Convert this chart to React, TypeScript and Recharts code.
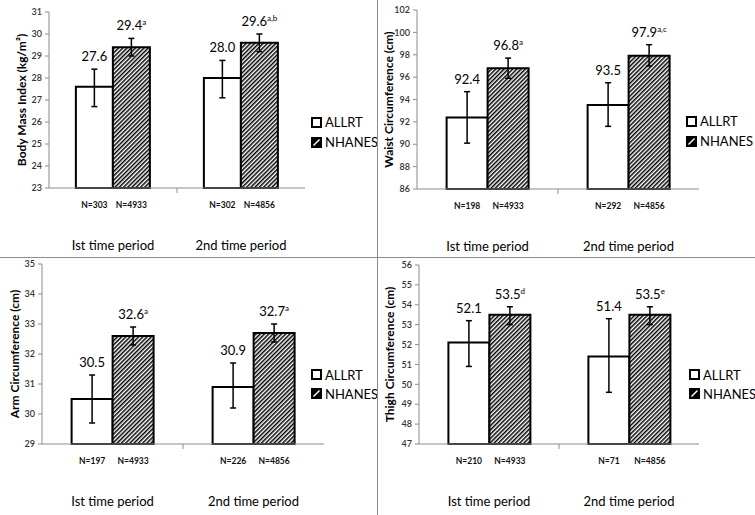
import React from 'react';
import { BarChart, Bar, XAxis, YAxis, ErrorBar, LabelList, Legend, Label } from 'recharts';

const periods = ['Ist time period', '2nd time period'];

// Body mass index
const bmiAllrt = [27.6, 28.0];
const bmiAllrtCi = [[26.7, 28.4], [27.1, 28.8]];
const bmiAllrtN = [303, 302];
const bmiNhanes = [29.4, 29.6];
const bmiNhanesCi = [[29.0, 29.8], [29.2, 30.0]];
const bmiNhanesN = [4933, 4856];
const bmiNhanesSup = ['a', 'a,b'];
const bmiTicks = [23, 24, 25, 26, 27, 28, 29, 30, 31];

// Waist circumference
const waistAllrt = [92.4, 93.5];
const waistAllrtCi = [[90.1, 94.7], [91.6, 95.5]];
const waistAllrtN = [198, 292];
const waistNhanes = [96.8, 97.9];
const waistNhanesCi = [[95.9, 97.7], [97.0, 98.9]];
const waistNhanesN = [4933, 4856];
const waistNhanesSup = ['a', 'a,c'];
const waistTicks = [86, 88, 90, 92, 94, 96, 98, 100, 102];

// Arm circumference
const armAllrt = [30.5, 30.9];
const armAllrtCi = [[29.7, 31.3], [30.2, 31.7]];
const armAllrtN = [197, 226];
const armNhanes = [32.6, 32.7];
const armNhanesCi = [[32.3, 32.9], [32.4, 33.0]];
const armNhanesN = [4933, 4856];
const armNhanesSup = ['a', 'a'];
const armTicks = [29, 30, 31, 32, 33, 34, 35];

// Thigh circumference
const thighAllrt = [52.1, 51.4];
const thighAllrtCi = [[50.9, 53.2], [49.6, 53.3]];
const thighAllrtN = [210, 71];
const thighNhanes = [53.5, 53.5];
const thighNhanesCi = [[53.0, 53.9], [53.0, 53.9]];
const thighNhanesN = [4933, 4856];
const thighNhanesSup = ['d', 'e'];
const thighTicks = [47, 48, 49, 50, 51, 52, 53, 54, 55, 56];

const AXIS = '#8c8c8c';

type PanelProps = {
  id: string;
  left: number; top: number; width: number; height: number;
  marginTop: number; marginRight: number;
  yWidth: number; xHeight: number; labelX: number;
  yLabel: string; ticks: number[];
  allrt: number[]; allrtCi: number[][]; allrtN: number[];
  nhanes: number[]; nhanesCi: number[][]; nhanesN: number[]; nhanesSup: string[];
  legendLeft: number; legendTop: number; legendRow: number;
};

const valueLabel = (ci: number[][], sup: string[] | null, min: number) => (p: any) => {
  const { x, y, width, height, value, index } = p;
  const ppu = height / (value - min);
  const top = y - (ci[index][1] - value) * ppu;
  return (
    <text x={x + width / 2} y={top - 8} textAnchor="middle" fontSize={13} fill="#000">
      {Number(value).toFixed(1)}
      {sup && <tspan dy={-5} fontSize={8}>{sup[index]}</tspan>}
    </text>
  );
};

const nLabel = (ns: number[]) => (p: any) => {
  const { x, y, width, height, index } = p;
  return (
    <text x={x + width / 2} y={y + height + 20} textAnchor="middle" fontSize={8.5} fontWeight={700} fill="#111">
      N={ns[index]}
    </text>
  );
};

const periodTick = (bandW: number) => (p: any) => {
  const { x, y, payload } = p;
  const idx = p.index ?? payload.index;
  return (
    <g>
      {idx === 0 && <line x1={x + bandW / 2} x2={x + bandW / 2} y1={y} y2={y + 5} stroke={AXIS} />}
      <text x={x} y={y + 62} textAnchor="middle" fontSize={13} fill="#000">{payload.value}</text>
    </g>
  );
};

function Panel(props: PanelProps) {
  const { id, ticks } = props;
  const min = ticks[0];
  const max = ticks[ticks.length - 1];
  const data = periods.map((period, i) => ({
    period,
    allrt: props.allrt[i],
    nhanes: props.nhanes[i],
    allrtErr: [props.allrt[i] - props.allrtCi[i][0], props.allrtCi[i][1] - props.allrt[i]],
    nhanesErr: [props.nhanes[i] - props.nhanesCi[i][0], props.nhanesCi[i][1] - props.nhanes[i]],
  }));
  const plotW = props.width - props.yWidth - props.marginRight;
  const bandW = plotW / periods.length;

  const renderLegend = (lp: any) => (
    <div style={{ fontSize: 13, color: '#000' }}>
      {(lp.payload || []).map((entry: any, i: number) => (
        <div key={i} style={{ display: 'flex', alignItems: 'center', height: props.legendRow }}>
          <svg width={11} height={11} style={{ marginRight: 3 }}>
            {i === 0 ? (
              <rect x={1} y={1} width={9} height={9} fill="#fff" stroke="#000" strokeWidth={2} />
            ) : (
              <g>
                <rect x={1} y={1} width={9} height={9} fill="#000" stroke="#000" strokeWidth={2} />
                <line x1={2.5} y1={8.5} x2={8.5} y2={2.5} stroke="#fff" strokeWidth={1.5} />
              </g>
            )}
          </svg>
          <span>{entry.value}</span>
        </div>
      ))}
    </div>
  );

  return (
    <div style={{ position: 'absolute', left: props.left, top: props.top }}>
      <BarChart
        width={props.width}
        height={props.height}
        data={data}
        margin={{ top: props.marginTop, right: props.marginRight, left: 0, bottom: 0 }}
        barGap={0}
        barCategoryGap="21%"
      >
        <defs>
          <pattern id={`hatch-${id}`} width={3} height={3} patternUnits="userSpaceOnUse" patternTransform="rotate(45)">
            <rect width={3} height={3} fill="#fff" />
            <line x1={0.75} y1={0} x2={0.75} y2={3} stroke="#000" strokeWidth={1.5} />
          </pattern>
        </defs>
        <XAxis
          dataKey="period"
          height={props.xHeight}
          axisLine={{ stroke: AXIS }}
          tickLine={false}
          tickSize={0}
          tickMargin={0}
          interval={0}
          tick={periodTick(bandW)}
        />
        <YAxis
          type="number"
          width={props.yWidth}
          domain={[min, max]}
          ticks={ticks}
          interval={0}
          axisLine={{ stroke: AXIS }}
          tickLine={{ stroke: AXIS }}
          tickSize={4}
          tickMargin={3}
          tick={{ fontSize: 9, fill: '#333', fontWeight: 600 }}
        >
          <Label
            content={(lp: any) => {
              const vb = lp.viewBox;
              const cx = vb.x + props.labelX;
              const cy = vb.y + vb.height / 2;
              return (
                <text x={cx} y={cy} transform={`rotate(-90 ${cx} ${cy})`} textAnchor="middle" dominantBaseline="central" fontSize={12} fontWeight={700} fill="#000">
                  {props.yLabel}
                </text>
              );
            }}
          />
        </YAxis>
        <Legend
          layout="horizontal"
          align="center"
          verticalAlign="middle"
          content={renderLegend}
          wrapperStyle={{ left: props.legendLeft, top: props.legendTop, width: 'auto', height: 'auto' }}
        />
        <Bar dataKey="allrt" name="ALLRT" fill="#fff" stroke="#000" strokeWidth={2} isAnimationActive={false}>
          <ErrorBar dataKey="allrtErr" width={3} stroke="#000" strokeWidth={1.5} direction="y" />
          <LabelList dataKey="allrt" content={valueLabel(props.allrtCi, null, min)} />
          <LabelList dataKey="allrt" content={nLabel(props.allrtN)} />
        </Bar>
        <Bar dataKey="nhanes" name="NHANES" fill={`url(#hatch-${id})`} stroke="#000" strokeWidth={2} isAnimationActive={false}>
          <ErrorBar dataKey="nhanesErr" width={3} stroke="#000" strokeWidth={1.5} direction="y" />
          <LabelList dataKey="nhanes" content={valueLabel(props.nhanesCi, props.nhanesSup, min)} />
          <LabelList dataKey="nhanes" content={nLabel(props.nhanesN)} />
        </Bar>
      </BarChart>
    </div>
  );
}

export default function App() {
  return (
    <div
      style={{
        position: 'absolute', left: 0, top: 0, width: 755, height: 515,
        background: '#fff', fontFamily: 'Lato, "Open Sans", sans-serif', overflow: 'hidden',
      }}
    >
      <Panel
        id="bmi" left={0} top={0} width={377} height={258}
        marginTop={12} marginRight={72} yWidth={49} xHeight={70} labelX={21}
        yLabel="Body Mass Index (kg/m²)" ticks={bmiTicks}
        allrt={bmiAllrt} allrtCi={bmiAllrtCi} allrtN={bmiAllrtN}
        nhanes={bmiNhanes} nhanesCi={bmiNhanesCi} nhanesN={bmiNhanesN} nhanesSup={bmiNhanesSup}
        legendLeft={311} legendTop={112} legendRow={20}
      />
      <Panel
        id="waist" left={377} top={0} width={378} height={258}
        marginTop={10} marginRight={56} yWidth={40} xHeight={69} labelX={11}
        yLabel="Waist Circumference (cm)" ticks={waistTicks}
        allrt={waistAllrt} allrtCi={waistAllrtCi} allrtN={waistAllrtN}
        nhanes={waistNhanes} nhanesCi={waistNhanesCi} nhanesN={waistNhanesN} nhanesSup={waistNhanesSup}
        legendLeft={309} legendTop={111} legendRow={20}
      />
      <Panel
        id="arm" left={0} top={258} width={377} height={257}
        marginTop={6} marginRight={53} yWidth={42} xHeight={71} labelX={14}
        yLabel="Arm Circumference (cm)" ticks={armTicks}
        allrt={armAllrt} allrtCi={armAllrtCi} allrtN={armAllrtN}
        nhanes={armNhanes} nhanesCi={armNhanesCi} nhanesN={armNhanesN} nhanesSup={armNhanesSup}
        legendLeft={311} legendTop={107} legendRow={19}
      />
      <Panel
        id="thigh" left={377} top={258} width={378} height={257}
        marginTop={7} marginRight={56} yWidth={42} xHeight={71} labelX={12}
        yLabel="Thigh Circumference (cm)" ticks={thighTicks}
        allrt={thighAllrt} allrtCi={thighAllrtCi} allrtN={thighAllrtN}
        nhanes={thighNhanes} nhanesCi={thighNhanesCi} nhanesN={thighNhanesN} nhanesSup={thighNhanesSup}
        legendLeft={312} legendTop={107} legendRow={19}
      />
      <div style={{ position: 'absolute', left: 0, top: 257, width: 755, height: 1, background: '#8c8c8c' }} />
      <div style={{ position: 'absolute', left: 377, top: 0, width: 1, height: 515, background: '#8c8c8c' }} />
    </div>
  );
}
